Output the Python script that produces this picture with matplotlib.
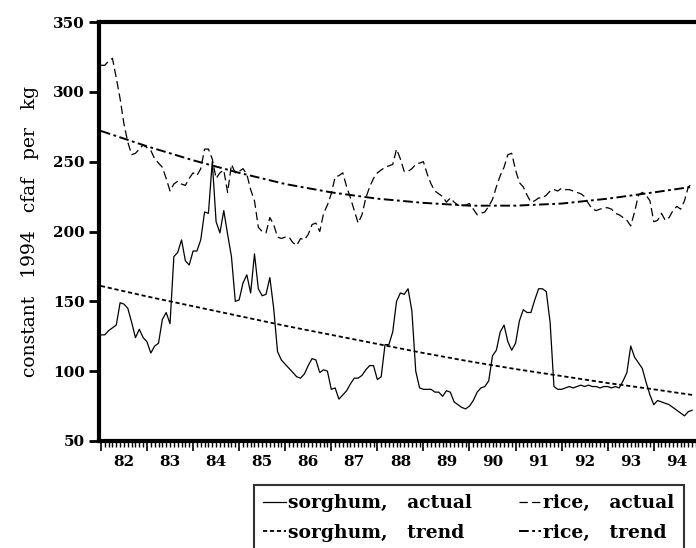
import numpy as np
import matplotlib.pyplot as plt

# monthly prices, Jan 1982 onwards (constant 1994 cfaf per kg)
sorghum_actual = [
    126, 126, 129, 131, 133, 149, 148, 145, 135, 124, 130, 124,
    121, 113, 118, 120, 137, 142, 134, 182, 185, 194, 179, 176,
    186, 186, 194, 214, 213, 250, 207, 199, 215, 198, 182, 150,
    151, 163, 169, 156, 184, 159, 154, 155, 167, 145, 114, 108,
    105, 102, 99, 96, 95, 98, 104, 109, 108, 99, 101, 100,
    87, 88, 80, 83, 86, 91, 95, 95, 97, 101, 104, 104,
    94, 96, 119, 119, 128, 150, 156, 155, 159, 143, 100, 88,
    87, 87, 87, 85, 85, 82, 86, 85, 78, 76, 74, 73,
    75, 79, 85, 88, 89, 93, 111, 115, 128, 133, 121, 115,
    120, 136, 144, 142, 142, 151, 159, 159, 157, 135, 89, 87,
    87, 88, 89, 88, 89, 90, 89, 90, 89, 89, 88, 89,
    89, 88, 89, 88, 93, 99, 118, 110, 106, 102, 92, 83,
    76, 79, 78, 77, 76, 74, 72, 70, 68, 71, 72,
]
rice_actual = [
    319, 319, 322, 324, 310, 295, 277, 264, 255, 256, 259, 262,
    260, 258, 252, 249, 246, 238, 229, 234, 236, 234, 233, 238,
    242, 240, 245, 259, 259, 252, 238, 242, 244, 228, 248, 242,
    243, 245, 241, 230, 222, 203, 200, 199, 210, 205, 196, 195,
    196, 196, 192, 190, 195, 194, 198, 205, 206, 200, 213, 219,
    227, 239, 240, 242, 232, 224, 215, 206, 212, 224, 232, 238,
    242, 244, 246, 247, 248, 259, 252, 243, 243, 245, 248, 249,
    250, 241, 234, 229, 227, 225, 221, 224, 221, 219, 218, 219,
    220, 216, 212, 213, 214, 218, 223, 232, 240, 246, 255, 256,
    244, 235, 232, 226, 221, 222, 224, 224, 226, 229, 230, 229,
    231, 230, 230, 229, 228, 227, 225, 220, 216, 215, 216, 217,
    217, 216, 213, 212, 210, 208, 204, 214, 226, 228, 226, 222,
    207, 208, 213, 208, 210, 215, 218, 216, 222, 232, 234,
]

# trend values read at yearly points (month index)
trend_months = [0, 12, 24, 36, 48, 60, 72, 84, 96, 108, 120, 132, 144, 154]
sorghum_trend = [161, 153.5, 146.5, 139.5, 132.5, 126, 119.5, 113, 107, 101.5, 96.5, 91.5, 87, 83]
rice_trend = [272, 261, 251, 242, 234, 228, 223.5, 220.5, 218.5, 218.5, 220, 223.5, 228, 232]

years = [1982 + k for k in range(13)]
year_labels = ['82', '83', '84', '85', '86', '87', '88', '89', '90', '91', '92', '93', '94']

plt.rcParams['font.family'] = 'DejaVu Serif'
plt.rcParams['font.weight'] = 'bold'
plt.rcParams['lines.scale_dashes'] = False

t = 1982 + np.arange(len(sorghum_actual)) / 12
tt = 1982 + np.array(trend_months) / 12

fig = plt.figure(figsize=(6.96, 5.48), dpi=100)
ax = fig.add_axes([99 / 696, 1 - 441 / 548, 1 - 99 / 696, 419 / 548])

ax.plot(t, sorghum_actual, color='black', lw=0.9, label='sorghum,   actual')
ax.plot(tt, sorghum_trend, color='black', lw=1.3, dashes=(3, 2), label='sorghum,   trend')
ax.plot(t, rice_actual, color='black', lw=0.9, dashes=(6, 3), label='rice,   actual')
ax.plot(tt, rice_trend, color='black', lw=1.4, dashes=(7, 2.5, 2, 2.5), label='rice,   trend')

ax.set_xlim(1982 - 0.5 / 12, 1982 + 154.2 / 12)
ax.set_ylim(50, 350)
ax.set_yticks(range(50, 351, 50))
ax.set_xticks(years)
ax.set_xticks(np.arange(1982, 1995, 1 / 12), minor=True)
ax.tick_params(axis='x', which='major', length=7, width=1.2, labelbottom=False)
ax.tick_params(axis='x', which='minor', length=4, width=1)
ax.tick_params(axis='y', length=7, width=2, labelsize=11, pad=3)
for s in ['left', 'bottom', 'top']:
    ax.spines[s].set_linewidth(3)
ax.spines['right'].set_visible(False)

sec = ax.secondary_xaxis('bottom')
sec.set_xticks([y + 0.5 for y in years], labels=year_labels)
sec.tick_params(length=0, pad=10, labelsize=11)
sec.spines['bottom'].set_visible(False)

ax.set_ylabel('constant   1994   cfaf   per   kg', fontsize=13.5, labelpad=10)

handles, labels = ax.get_legend_handles_labels()
leg = fig.legend(handles, labels, ncol=2, loc='upper left',
                 bbox_to_anchor=(254 / 696, 1 - 485 / 548), frameon=True,
                 fancybox=False, edgecolor='black', fontsize=13.5,
                 handlelength=1.2, handletextpad=0.1, columnspacing=2.5,
                 borderpad=0.5, labelspacing=0.6, borderaxespad=0)
leg.get_frame().set_linewidth(1.5)

fig.savefig('out.png', dpi=100)
